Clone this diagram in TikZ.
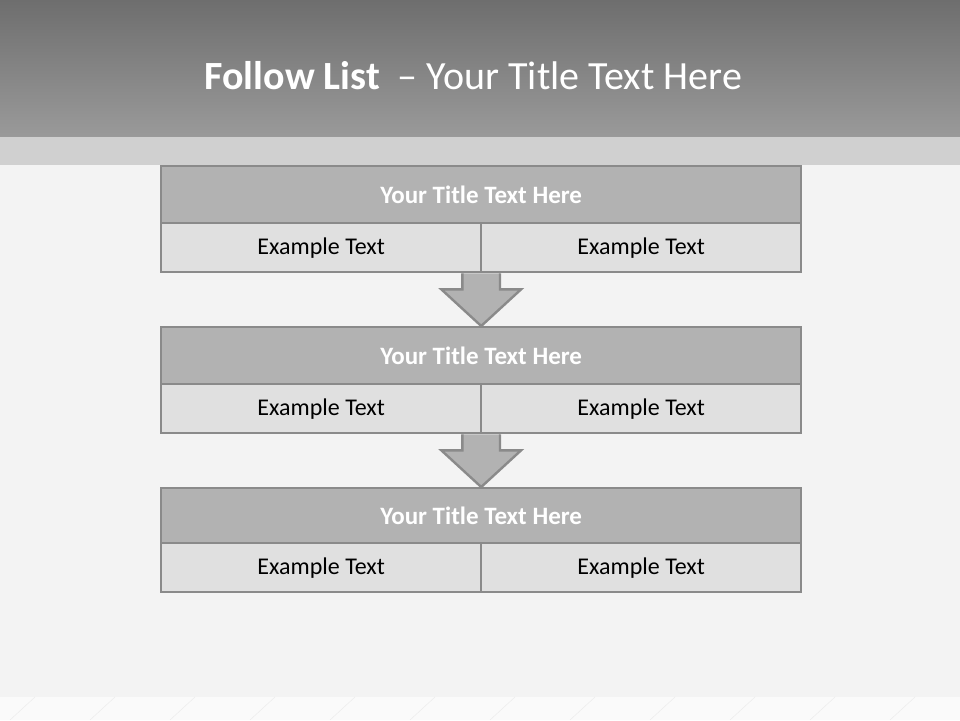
\documentclass[tikz,border=0pt]{standalone}
\usepackage{fontspec}
\setmainfont{Carlito}
\pgfdeclarelayer{bglayer}
\pgfdeclarelayer{midlayer}
\pgfsetlayers{bglayer,midlayer,main}
\begin{document}
\begin{tikzpicture}[x=1pt,y=-1pt,
  titlerow/.style={draw=boxline,line width=2.4pt,fill=titlefill,minimum width=640pt,minimum height=57pt,inner sep=0pt,font=\fontsize{25}{30}\selectfont\bfseries,text=white,anchor=north west},
  cellrow/.style={draw=boxline,line width=2.4pt,fill=cellfill,minimum width=320pt,minimum height=49pt,inner sep=0pt,font=\fontsize{24}{29}\selectfont,text=black,anchor=north west},
  flowarrow/.style={draw=boxline,line width=2.4pt,fill=titlefill,line join=miter}]
\definecolor{boxline}{HTML}{8A8A8A}
\definecolor{titlefill}{HTML}{B2B2B2}
\definecolor{cellfill}{HTML}{E0E0E0}
\definecolor{bgfill}{HTML}{F3F3F3}
\definecolor{headtop}{HTML}{6E6E6E}
\definecolor{headbot}{HTML}{9A9A9A}
\definecolor{bandfill}{HTML}{D0D0D0}
\useasboundingbox (0,0) rectangle (960,720);
\begin{pgfonlayer}{bglayer}
\fill[bgfill] (0,0) rectangle (960,720);
\shade[top color=headtop,bottom color=headbot] (0,0) rectangle (960,137);
\fill[bandfill] (0,137) rectangle (960,165);
% floor
\fill[white!60!bgfill] (0,697) rectangle (960,720);
\foreach \i in {0,...,12} {
  \draw[white!85!gray,line width=0.5pt] (\i*80+10,720) -- (\i*80+35,697);
}
\end{pgfonlayer}
\node[anchor=west,text=white,font=\fontsize{40}{48}\selectfont] (maintitle) at (201,76) {\textbf{Follow List}\hspace{0.45em}– Your Title Text Here};
% blocks
\node[titlerow] (t1) at (160,165) {Your Title Text Here};
\node[cellrow] (a1) at (160,222) {Example Text};
\node[cellrow] (b1) at (480,222) {Example Text};
\node[titlerow] (t2) at (160,326) {Your Title Text Here};
\node[cellrow] (a2) at (160,383) {Example Text};
\node[cellrow] (b2) at (480,383) {Example Text};
\node[titlerow,minimum height=55pt] (t3) at (160,487) {Your Title Text Here};
\node[cellrow] (a3) at (160,542) {Example Text};
\node[cellrow] (b3) at (480,542) {Example Text};
% arrows
\begin{pgfonlayer}{midlayer}
\draw[flowarrow] ([xshift=-20pt]a1.south east) -- ([xshift=-20pt,yshift=-16pt]a1.south east) -- ([xshift=-41pt,yshift=-16pt]a1.south east) -- (t2.north) -- ([xshift=41pt,yshift=-16pt]b1.south west) -- ([xshift=20pt,yshift=-16pt]b1.south west) -- ([xshift=20pt]b1.south west);
\draw[flowarrow] ([xshift=-20pt]a2.south east) -- ([xshift=-20pt,yshift=-16pt]a2.south east) -- ([xshift=-41pt,yshift=-16pt]a2.south east) -- (t3.north) -- ([xshift=41pt,yshift=-16pt]b2.south west) -- ([xshift=20pt,yshift=-16pt]b2.south west) -- ([xshift=20pt]b2.south west);
\end{pgfonlayer}
\end{tikzpicture}
\end{document}
